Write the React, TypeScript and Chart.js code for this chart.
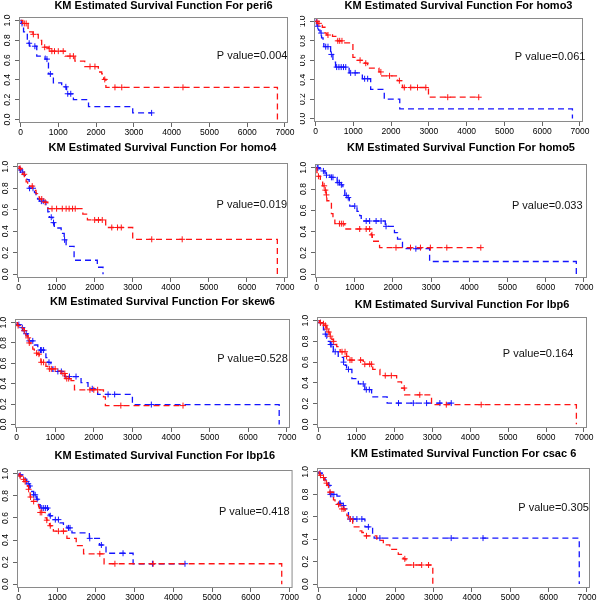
import React, { useEffect, useRef } from "react";
import { Chart, registerables } from "chart.js";

Chart.register(...registerables);

// ---------- tick labels ----------
const xTickValues = [0, 1000, 2000, 3000, 4000, 5000, 6000, 7000];
const yTickValues = [0, 0.2, 0.4, 0.6, 0.8, 1.0];

// ---------- panel texts ----------
const panelTitles = [
  "KM Estimated Survival Function For peri6",
  "KM Estimated Survival Function For homo3",
  "KM Estimated Survival Function For homo4",
  "KM Estimated Survival Function For homo5",
  "KM Estimated Survival Function For skew6",
  "KM Estimated Survival Function For lbp6",
  "KM Estimated Survival Function For lbp16",
  "KM Estimated Survival Function For csac 6",
];
const pValueText = [
  "P value=0.004",
  "P value=0.061",
  "P value=0.019",
  "P value=0.033",
  "P value=0.528",
  "P value=0.164",
  "P value=0.418",
  "P value=0.305",
];
const pValueX = [6130, 6210, 6130, 6040, 6110, 5790, 6090, 6130];
const pValueY = [0.645, 0.636, 0.646, 0.637, 0.645, 0.675, 0.65, 0.676];

// ---------- KM step data: [time, survival after step] ----------
const peri6Red = [[0,1],[60,0.97],[200,0.885],[330,0.86],[470,0.8],[560,0.73],[740,0.715],[780,0.69],[1180,0.64],[1440,0.59],[1700,0.535],[2060,0.48],[2150,0.46],[2200,0.405],[2260,0.325],[6800,0]];
const peri6RedCensor = [100,150,340,640,760,830,900,1000,1130,1310,1400,1840,1970,2230,2500,2680,4300];
const peri6Blue = [[0,1],[20,0.97],[50,0.95],[80,0.885],[130,0.86],[180,0.79],[210,0.77],[240,0.74],[430,0.64],[650,0.61],[740,0.46],[870,0.37],[1090,0.33],[1220,0.26],[1400,0.2],[1800,0.13],[2970,0.067],[3470,0.067]];
const peri6BlueCensor = [40,230,380,700,790,1200,1250,1330,3470];

const homo3Red = [[0,1],[50,0.98],[120,0.96],[180,0.94],[250,0.88],[300,0.86],[450,0.845],[580,0.8],[750,0.78],[990,0.63],[1100,0.6],[1300,0.57],[1380,0.52],[1680,0.48],[1750,0.44],[2170,0.39],[2300,0.32],[2990,0.22],[4320,0.22]];
const homo3RedCensor = [40,90,330,590,640,700,1180,1330,1730,1960,2220,2350,2520,2700,2920,3500,4320];
const homo3Blue = [[0,1],[40,0.95],[80,0.91],[120,0.88],[160,0.83],[200,0.81],[220,0.74],[400,0.66],[460,0.58],[530,0.53],[890,0.47],[1240,0.41],[1460,0.3],[1820,0.2],[2230,0.1],[6800,0]];
const homo3BlueCensor = [20,60,150,270,330,420,560,620,680,740,800,930,1050,1300,1380];

const homo4Red = [[0,1],[20,0.985],[70,0.95],[110,0.93],[160,0.91],[200,0.86],[240,0.82],[370,0.8],[420,0.78],[460,0.75],[500,0.72],[550,0.7],[640,0.67],[770,0.61],[1690,0.56],[1810,0.505],[2290,0.435],[3000,0.325],[6800,0]];
const homo4RedCensor = [40,150,360,610,700,880,1000,1150,1250,1330,1420,1490,2000,2100,2200,2450,2600,2700,3500,4300];
const homo4Blue = [[0,1],[30,0.97],[60,0.95],[150,0.92],[220,0.88],[280,0.8],[420,0.76],[460,0.73],[500,0.7],[550,0.68],[720,0.62],[770,0.58],[810,0.53],[900,0.48],[940,0.43],[1120,0.38],[1200,0.32],[1250,0.26],[1460,0.13],[2070,0.065],[2220,0]];
const homo4BlueCensor = [50,100,290,380,600,650,860,920,1210];

const homo5Red = [[0,1],[10,0.955],[40,0.92],[100,0.89],[160,0.83],[210,0.79],[250,0.745],[270,0.69],[390,0.57],[430,0.52],[480,0.475],[740,0.425],[1430,0.37],[1460,0.31],[1650,0.25],[4300,0.25]];
const homo5RedCensor = [50,200,230,260,600,650,700,1130,1300,1390,1450,2080,2460,2720,2980,3410,4300];
const homo5Blue = [[0,1],[80,0.99],[130,0.97],[220,0.95],[260,0.93],[350,0.91],[540,0.86],[650,0.84],[690,0.81],[740,0.74],[820,0.72],[860,0.69],[870,0.64],[1060,0.59],[1130,0.55],[1170,0.5],[1800,0.45],[2040,0.39],[2120,0.33],[2200,0.3],[2250,0.24],[2960,0.12],[6800,0]];
const homo5BlueCensor = [20,40,180,260,390,430,560,600,650,780,830,1000,1300,1390,1560,1690,1820,2600];

const skew6Red = [[0,1],[20,0.97],[70,0.96],[150,0.94],[200,0.92],[225,0.89],[240,0.87],[290,0.85],[330,0.8],[370,0.78],[420,0.74],[460,0.7],[550,0.69],[590,0.655],[630,0.61],[760,0.57],[810,0.545],[1070,0.525],[1150,0.5],[1260,0.45],[1410,0.43],[1500,0.34],[2250,0.27],[2300,0.185],[4310,0.185]];
const skew6RedCensor = [40,200,300,330,520,580,640,700,850,900,1000,1200,1250,1300,1350,1900,2000,2100,2700,4310];
const skew6Blue = [[0,1],[20,0.98],[110,0.95],[160,0.92],[240,0.89],[290,0.82],[460,0.78],[550,0.73],[760,0.655],[810,0.61],[890,0.565],[940,0.52],[1240,0.47],[1670,0.41],[1850,0.35],[2100,0.295],[3000,0.195],[6800,0]];
const skew6BlueCensor = [60,150,200,250,330,420,620,650,700,840,1070,1160,1370,1540,1960,2370,2540,3490];

const lbp6Red = [[0,1],[30,0.98],[90,0.97],[170,0.955],[200,0.94],[220,0.92],[260,0.89],[300,0.85],[350,0.82],[390,0.8],[440,0.77],[480,0.75],[550,0.72],[570,0.7],[740,0.655],[790,0.62],[1180,0.58],[1430,0.53],[1620,0.47],[2060,0.41],[2190,0.35],[2270,0.285],[2980,0.19],[6800,0]];
const lbp6RedCensor = [50,130,180,220,270,310,400,620,700,740,830,880,1110,1220,1350,1400,1760,1920,2260,2670,3370,4290];
const lbp6Blue = [[0,1],[20,0.98],[90,0.95],[130,0.91],[170,0.87],[220,0.83],[260,0.8],[310,0.77],[390,0.7],[520,0.645],[660,0.6],[700,0.57],[740,0.53],[880,0.44],[1050,0.39],[1220,0.335],[1400,0.265],[1810,0.205],[3500,0.205]];
const lbp6BlueCensor = [50,180,320,350,440,660,790,1180,1260,1340,2110,2500,2850,3200,3500];

const lbp16Red = [[0,1],[20,0.98],[80,0.97],[130,0.95],[170,0.93],[210,0.91],[230,0.89],[260,0.86],[280,0.84],[300,0.79],[340,0.75],[470,0.72],[520,0.7],[540,0.68],[560,0.65],[690,0.6],[730,0.58],[770,0.56],[800,0.53],[860,0.5],[900,0.48],[1250,0.415],[1490,0.35],[1680,0.275],[2210,0.185],[6800,0]];
const lbp16RedCensor = [40,130,170,260,310,390,560,600,730,820,1030,1160,2100,2490,3480];
const lbp16Blue = [[0,1],[10,0.99],[130,0.97],[170,0.95],[210,0.93],[250,0.91],[280,0.89],[300,0.86],[340,0.84],[390,0.81],[470,0.77],[500,0.74],[520,0.72],[560,0.69],[770,0.635],[800,0.62],[890,0.585],[1070,0.555],[1160,0.535],[1250,0.51],[1380,0.465],[1830,0.415],[2090,0.355],[2260,0.28],[2960,0.185],[4300,0.185]];
const lbp16BlueCensor = [40,210,250,290,390,430,480,600,650,700,750,820,950,1030,1290,1330,1840,2140,2700,3460,4300];

const csac6Red = [[0,1],[20,0.98],[40,0.97],[90,0.95],[150,0.93],[170,0.91],[200,0.9],[230,0.88],[260,0.82],[390,0.75],[430,0.71],[560,0.67],[690,0.655],[740,0.61],[780,0.58],[890,0.51],[1080,0.475],[1130,0.46],[1210,0.43],[1520,0.39],[1690,0.35],[1860,0.31],[2080,0.265],[2210,0.225],[2280,0.17],[2980,0]];
const csac6RedCensor = [50,130,210,300,520,610,660,830,1250,2250,2480,2690,2870];
const csac6Blue = [[0,1],[10,0.99],[90,0.97],[130,0.95],[170,0.93],[220,0.905],[260,0.88],[300,0.8],[480,0.785],[560,0.72],[610,0.7],[660,0.67],[740,0.66],[780,0.58],[1210,0.51],[1410,0.44],[1450,0.41],[6800,0]];
const csac6BlueCensor = [40,130,270,310,350,400,560,650,820,900,1000,1130,1300,1600,3460,4290];

const redSeries = [peri6Red, homo3Red, homo4Red, homo5Red, skew6Red, lbp6Red, lbp16Red, csac6Red];
const redCensors = [peri6RedCensor, homo3RedCensor, homo4RedCensor, homo5RedCensor, skew6RedCensor, lbp6RedCensor, lbp16RedCensor, csac6RedCensor];
const blueSeries = [peri6Blue, homo3Blue, homo4Blue, homo5Blue, skew6Blue, lbp6Blue, lbp16Blue, csac6Blue];
const blueCensors = [peri6BlueCensor, homo3BlueCensor, homo4BlueCensor, homo5BlueCensor, skew6BlueCensor, lbp6BlueCensor, lbp16BlueCensor, csac6BlueCensor];

// ---------- layout (page pixels of each plot box) ----------
const panelLayouts = [
  { col: 0, l: 19, t: 17, r: 288, b: 123, ty: 6 },
  { col: 1, l: 314, t: 18, r: 583, b: 122, ty: 6 },
  { col: 0, l: 17, t: 163, r: 288, b: 278, ty: 148 },
  { col: 1, l: 315, t: 164, r: 587, b: 278, ty: 148 },
  { col: 0, l: 15, t: 319, r: 290, b: 428, ty: 302 },
  { col: 1, l: 317, t: 317, r: 587, b: 428, ty: 305 },
  { col: 0, l: 17, t: 470, r: 293, b: 588, ty: 456 },
  { col: 1, l: 317, t: 468, r: 590, b: 588, ty: 454 },
];

const FONT = '"Liberation Sans", Arial, Helvetica, sans-serif';
const RED = "rgb(255,20,20)";
const BLUE = "rgb(20,20,255)";
const X_AXIS_H = 14;

function survAt(steps: number[][], t: number) {
  let s = steps[0][1];
  for (const [ti, si] of steps) if (ti <= t) s = si;
  return s;
}

const decorPlugin = {
  id: "decor",
  afterDraw(chart: any, _args: any, opts: any) {
    const { ctx, chartArea: a, scales } = chart;
    ctx.save();
    ctx.strokeStyle = "#8a8a8a";
    ctx.lineWidth = 1;
    ctx.strokeRect(a.left + 0.5, a.top + 0.5, a.right - a.left - 1, a.bottom - a.top - 1);
    ctx.fillStyle = "#000";
    ctx.textAlign = "center";
    ctx.textBaseline = "middle";
    ctx.font = `bold 11px ${FONT}`;
    ctx.fillText(opts.title, (a.left + a.right) / 2 + opts.titleShift, opts.titleY);
    ctx.font = `11px ${FONT}`;
    ctx.fillStyle = "#111";
    ctx.fillText(opts.pText, scales.x.getPixelForValue(opts.px), scales.y.getPixelForValue(opts.py));
    ctx.restore();
  },
};

function Panel({ i }: { i: number }) {
  const ref = useRef<HTMLCanvasElement | null>(null);
  const L = panelLayouts[i];
  const left = L.col * 300;
  const top = Math.max(0, L.ty - 8);
  const bottom = Math.min(604, L.b + 18);
  const h = bottom - top;

  useEffect(() => {
    if (!ref.current) return;
    const curve = (steps: number[][], color: string) => ({
      data: steps.map(([x, y]) => ({ x, y })),
      borderColor: color,
      borderWidth: 1.3,
      borderDash: [6, 4],
      stepped: "before" as const,
      pointRadius: 0,
      fill: false,
      tension: 0,
    });
    const marks = (times: number[], steps: number[][], color: string) => ({
      data: times.map((t) => ({ x: t, y: survAt(steps, t) })),
      showLine: false,
      pointStyle: "cross" as const,
      pointRadius: 3,
      pointBorderWidth: 1,
      borderColor: color,
      backgroundColor: color,
    });
    const tickFont = { family: FONT, size: 8.5 };
    const grid = { display: true, drawOnChartArea: false, drawTicks: true, tickLength: 4, color: "#666" };
    const chart = new Chart(ref.current, {
      type: "line",
      data: {
        datasets: [
          curve(redSeries[i], RED),
          marks(redCensors[i], redSeries[i], RED),
          curve(blueSeries[i], BLUE),
          marks(blueCensors[i], blueSeries[i], BLUE),
        ] as any,
      },
      plugins: [decorPlugin as any],
      options: {
        responsive: false,
        animation: false,
        events: [],
        layout: {
          padding: {
            left: 0,
            top: L.t - top,
            right: left + 300 - L.r,
            bottom: h - (L.b - top) - X_AXIS_H,
          },
        },
        scales: {
          x: {
            type: "linear",
            min: -40,
            max: 7080,
            afterBuildTicks: (s: any) => {
              s.ticks = xTickValues.map((v) => ({ value: v }));
            },
            afterFit: (s: any) => {
              s.height = X_AXIS_H;
            },
            ticks: {
              font: tickFont,
              color: "#000",
              padding: 1,
              autoSkip: false,
              maxRotation: 0,
              callback: (v: any) => String(v),
            },
            grid,
            border: { display: false },
          },
          y: {
            type: "linear",
            min: -0.035,
            max: 1.035,
            afterBuildTicks: (s: any) => {
              s.ticks = yTickValues.map((v) => ({ value: v }));
            },
            afterFit: (s: any) => {
              s.width = L.l - left;
            },
            ticks: {
              font: tickFont,
              color: "#000",
              padding: 1,
              autoSkip: false,
              minRotation: 90,
              maxRotation: 90,
              crossAlign: "center",
              callback: (v: any) => Number(v).toFixed(1),
            },
            grid,
            border: { display: false },
          },
        },
        plugins: {
          legend: { display: false },
          title: { display: false },
          tooltip: { enabled: false },
          decor: {
            title: panelTitles[i],
            titleShift: 10,
            titleY: L.ty - top,
            pText: pValueText[i],
            px: pValueX[i],
            py: pValueY[i],
          },
        } as any,
      },
    });
    return () => chart.destroy();
  }, [i]);

  return (
    <canvas
      ref={ref}
      width={300}
      height={h}
      style={{ position: "absolute", left, top, width: 300, height: h, display: "block" }}
    />
  );
}

export default function App() {
  return (
    <div style={{ position: "absolute", left: 0, top: 0, width: 600, height: 604, background: "#fff", overflow: "hidden" }}>
      {panelLayouts.map((_, i) => (
        <Panel key={i} i={i} />
      ))}
    </div>
  );
}
